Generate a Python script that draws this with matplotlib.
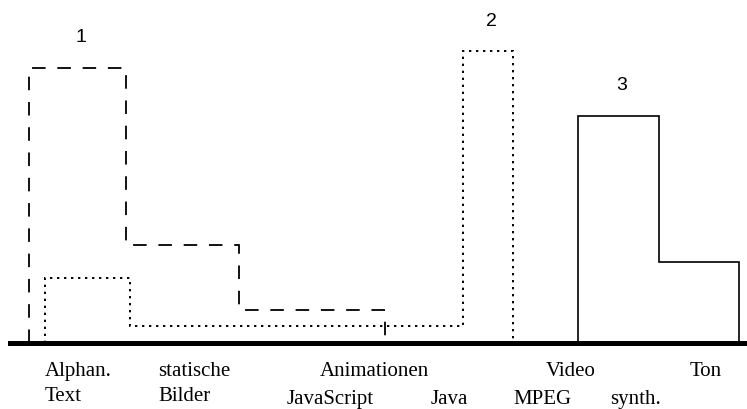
import matplotlib
matplotlib.use("Agg")
from matplotlib import pyplot as plt

# step heights (relative units) and bin edges for each group
s1_edges = [29, 126, 239, 385]
s1_values = [275, 98, 33]
s2_edges = [45, 130, 463, 513]
s2_values = [65, 17, 292]
s3_edges = [578, 659, 739]
s3_values = [227, 81]

series_names = ["1", "2", "3"]

top_labels = ["Alphan.", "statische", "Animationen", "Video", "Ton"]
mid_labels = ["Text", "Bilder"]
low_labels = ["JavaScript", "Java", "MPEG", "synth."]

# layout of the category labels (left edge, x units)
top_x = [45, 158, 320, 546, 690]
mid_x = [45, 158]
low_x = [287, 431, 513, 610]


fig = plt.figure(figsize=(7.47, 4.10), dpi=100)
ax = fig.add_axes([0, 0, 1, 1])
ax.set_xlim(0, 747)
ax.set_ylim(-66, 344)
ax.axis('off')

styles = [
    dict(linestyle=(0, (7.5, 6.5)), linewidth=1.3),
    dict(linestyle=(0, (1.2, 2.4)), linewidth=1.4),
    dict(linestyle='-', linewidth=1.2),
]

groups = [(s1_values, s1_edges), (s2_values, s2_edges), (s3_values, s3_edges)]
for (vals, edges), st, name in zip(groups, styles, series_names):
    ax.stairs(vals, edges, baseline=0, color='black', **st)
    # group number above its tallest step
    i = vals.index(max(vals))
    xc = (edges[i] + edges[i + 1]) / 2
    ax.text(xc + 3, max(vals) + 31, name, ha='center', va='center',
            fontsize=14, family='Liberation Sans')

# baseline
ax.axhline(0, xmin=10 / 747, xmax=1, color='black', linewidth=3.6)

serif = dict(fontsize=15, family='Liberation Serif', va='baseline', ha='left')
for lab, x in zip(top_labels, top_x):
    ax.text(x, -32, lab, **serif)
for lab, x in zip(mid_labels, mid_x):
    ax.text(x, -57, lab, **serif)
for lab, x in zip(low_labels, low_x):
    ax.text(x, -60, lab, **serif)

plt.savefig("out.png", dpi=100)
